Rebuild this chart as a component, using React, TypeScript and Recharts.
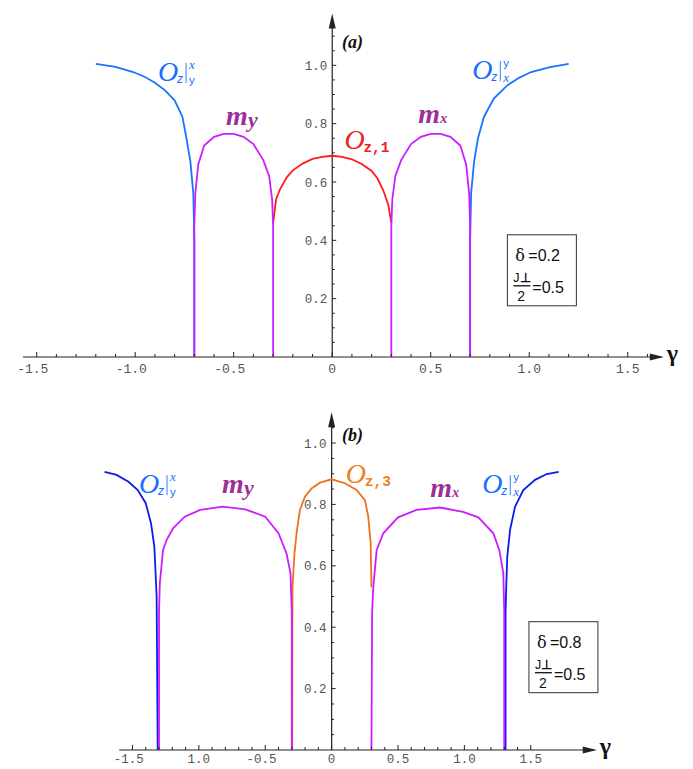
import React from 'react';
import { LineChart, Line, XAxis, YAxis, ReferenceLine, ReferenceDot } from 'recharts';

type Pt = { x: number; y: number };
const toPts = (rows: number[][]): Pt[] => rows.map(([x, y]) => ({ x, y }));

// ---- panel (a): delta = 0.2 ----
const aOzLeft = toPts([
  [-1.2, 1.005], [-1.1, 0.995], [-1.01, 0.977], [-0.95, 0.96], [-0.9, 0.94], [-0.85, 0.915],
  [-0.8, 0.88], [-0.76, 0.823], [-0.74, 0.75], [-0.72, 0.67], [-0.705, 0.56], [-0.7, 0.4], [-0.7, 0],
]);
const aMy = toPts([
  [-0.7, 0], [-0.7, 0.45], [-0.695, 0.56], [-0.68, 0.66], [-0.65, 0.725], [-0.6, 0.755], [-0.55, 0.765],
  [-0.5, 0.765], [-0.45, 0.755], [-0.4, 0.73], [-0.35, 0.675], [-0.32, 0.62], [-0.305, 0.54], [-0.3, 0.45], [-0.3, 0],
]);
const aOz1 = toPts([
  [-0.3, 0.46], [-0.285, 0.54], [-0.265, 0.575], [-0.23, 0.617], [-0.2, 0.64], [-0.15, 0.663], [-0.1, 0.679],
  [-0.05, 0.686], [0, 0.69], [0.05, 0.686], [0.1, 0.678], [0.15, 0.662], [0.2, 0.638], [0.23, 0.612],
  [0.26, 0.57], [0.285, 0.52], [0.3, 0.46],
]);
const aMx = toPts([
  [0.3, 0], [0.3, 0.45], [0.305, 0.54], [0.32, 0.62], [0.35, 0.675], [0.4, 0.73], [0.45, 0.755], [0.5, 0.765],
  [0.55, 0.765], [0.6, 0.755], [0.65, 0.725], [0.68, 0.66], [0.695, 0.56], [0.7, 0.45], [0.7, 0],
]);
const aOzRight = toPts([
  [0.7, 0], [0.7, 0.4], [0.705, 0.56], [0.72, 0.67], [0.74, 0.75], [0.77, 0.823], [0.82, 0.886],
  [0.89, 0.932], [0.95, 0.958], [1.01, 0.977], [1.1, 0.993], [1.2, 1.005],
]);

// ---- panel (b): delta = 0.8 ----
const bOzLeft = toPts([
  [-1.71, 0.906], [-1.62, 0.896], [-1.53, 0.874], [-1.46, 0.847], [-1.4, 0.804], [-1.36, 0.738],
  [-1.335, 0.662], [-1.318, 0.5], [-1.31, 0],
]);
const bMy = toPts([
  [-1.3, 0], [-1.3, 0.45], [-1.294, 0.543], [-1.27, 0.651], [-1.243, 0.684], [-1.194, 0.722], [-1.106, 0.76],
  [-0.99, 0.782], [-0.82, 0.793], [-0.65, 0.784], [-0.5, 0.76], [-0.4, 0.706], [-0.34, 0.641], [-0.31, 0.576],
  [-0.3, 0.45], [-0.3, 0],
]);
const bOz3 = toPts([
  [-0.297, 0], [-0.295, 0.53], [-0.28, 0.64], [-0.264, 0.706], [-0.239, 0.782], [-0.201, 0.825], [-0.151, 0.852],
  [-0.088, 0.871], [0, 0.882], [0.1, 0.869], [0.188, 0.847], [0.251, 0.814], [0.276, 0.76], [0.294, 0.673], [0.3, 0.53],
]);
const bMx = toPts([
  [0.3, 0], [0.305, 0.45], [0.314, 0.532], [0.339, 0.651], [0.389, 0.706], [0.5, 0.758], [0.64, 0.782],
  [0.816, 0.79], [0.99, 0.776], [1.105, 0.758], [1.218, 0.706], [1.263, 0.651], [1.293, 0.576], [1.3, 0.45], [1.3, 0],
]);
const bOzRight = toPts([
  [1.31, 0], [1.31, 0.45], [1.315, 0.532], [1.323, 0.63], [1.344, 0.717], [1.381, 0.792], [1.444, 0.847],
  [1.532, 0.88], [1.62, 0.899], [1.71, 0.906],
]);

// ---- ticks ----
const aXTicks = [-1.5, -1.4, -1.3, -1.2, -1.1, -1, -0.9, -0.8, -0.7, -0.6, -0.5, -0.4, -0.3, -0.2, -0.1, 0,
  0.1, 0.2, 0.3, 0.4, 0.5, 0.6, 0.7, 0.8, 0.9, 1, 1.1, 1.2, 1.3, 1.4, 1.5, 1.6];
const bXTicks = [-1.5, -1.4, -1.3, -1.2, -1.1, -1, -0.9, -0.8, -0.7, -0.6, -0.5, -0.4, -0.3, -0.2, -0.1, 0,
  0.1, 0.2, 0.3, 0.4, 0.5, 0.6, 0.7, 0.8, 0.9, 1, 1.1, 1.2, 1.3, 1.4, 1.5];
const xMajor = [-1.5, -1, -0.5, 0, 0.5, 1, 1.5];
const aXLabels = ['-1.5', '-1.0', '-0.5', '0', '0.5', '1.0', '1.5'];
const bXLabels = ['-1.5', '1.0', '-0.5', '0', '0.5', '1.0', '1.5'];

const aYTicks = [0.05, 0.1, 0.15, 0.2, 0.25, 0.3, 0.35, 0.4, 0.45, 0.5, 0.55, 0.6, 0.65, 0.7, 0.75, 0.8,
  0.85, 0.9, 0.95, 1, 1.05, 1.1];
const bYTicks = [0.05, 0.1, 0.15, 0.2, 0.25, 0.3, 0.35, 0.4, 0.45, 0.5, 0.55, 0.6, 0.65, 0.7, 0.75, 0.8,
  0.85, 0.9, 0.95, 1, 1.05];
const yMajor = [0.2, 0.4, 0.6, 0.8, 1];
const yLabels = ['0.2', '0.4', '0.6', '0.8', '1.0'];

const aParams = ['0.2', '0.5'];
const bParams = ['0.8', '0.5'];

const AXIS = '#222';
const TICK_FONT = 'Liberation Mono, DejaVu Sans Mono, monospace';
const LABEL_BLUE = '#1a6dff';
const PURPLE = '#9b2f96';

const findMajor = (major: number[], v: number) => major.findIndex((m) => Math.abs(m - v) < 1e-6);

const makeXTick = (labels: string[], fontSize: number, dy: number) => (props: any) => {
  const { x, y, payload } = props;
  const i = findMajor(xMajor, payload.value);
  const label = i >= 0 ? labels[i] : null;
  const shift = label && label.startsWith('-') ? -0.3 * fontSize : 0;
  return (
    <g>
      <line x1={x} x2={x} y1={y} y2={y - (i >= 0 ? 5 : 3)} stroke={AXIS} strokeWidth={1} />
      {label && (
        <text x={x + shift} y={y + dy} textAnchor="middle" fontFamily={TICK_FONT} fontSize={fontSize} fill="#555">
          {label}
        </text>
      )}
    </g>
  );
};

const yTickShape = (v: number) => (p: any) => {
  const i = findMajor(yMajor, v);
  return (
    <g>
      <line x1={p.cx} x2={p.cx + (i >= 0 ? 4 : 2.5)} y1={p.cy} y2={p.cy} stroke={AXIS} strokeWidth={1} />
      {i >= 0 && (
        <text x={p.cx - 5} y={p.cy + 4.5} textAnchor="end" fontFamily={TICK_FONT} fontSize={12.5} fill="#555">
          {yLabels[i]}
        </text>
      )}
    </g>
  );
};

const arrowRight = (p: any) => (
  <g>
    <polygon points={`${p.cx},${p.cy} ${p.cx - 14},${p.cy - 3.5} ${p.cx - 14},${p.cy + 3.5}`} fill={AXIS} />
    <text x={p.cx + 3} y={p.cy + 4} fontFamily="Liberation Serif" fontWeight="bold" fontSize={24} fill="#111">γ</text>
  </g>
);

const arrowUp = (p: any) => (
  <polygon points={`${p.cx},${p.cy} ${p.cx - 3.5},${p.cy + 15} ${p.cx + 3.5},${p.cy + 15}`} fill={AXIS} />
);

const panelTag = (tag: string) => (p: any) => (
  <text x={p.cx} y={p.cy} fontFamily="Liberation Serif" fontWeight="bold" fontStyle="italic" fontSize={18} fill="#111">
    ({tag})
  </text>
);

// O_z with a bar and stacked indices
const ozBar = (top: string, bottom: string, topItalic: boolean) => (p: any) => {
  const { cx, cy } = p;
  const serif = { fontFamily: 'Liberation Serif', fontStyle: 'italic' as const, fontSize: 13 };
  const sans = { fontFamily: 'Liberation Sans', fontSize: 11.5 };
  return (
    <g fill={LABEL_BLUE}>
      <text x={cx - 1} y={cy + 1} fontFamily="Liberation Serif" fontStyle="italic" fontSize={28}>O</text>
      <text x={cx + 18} y={cy + 3} fontFamily="Liberation Sans" fontStyle="italic" fontSize={12}>z</text>
      <line x1={cx + 27} x2={cx + 27} y1={cy - 17} y2={cy + 3} stroke={LABEL_BLUE} strokeWidth={0.9} />
      <text x={cx + 30} y={cy - 11} {...(topItalic ? serif : sans)}>{top}</text>
      <text x={cx + 30} y={cy + 4} {...(topItalic ? sans : serif)}>{bottom}</text>
    </g>
  );
};

const ozIndex = (index: string, color: string) => (p: any) => (
  <g fill={color}>
    <text x={p.cx - 1} y={p.cy + 1} fontFamily="Liberation Serif" fontStyle="italic" fontSize={28}>O</text>
    <text x={p.cx + 18} y={p.cy + 4} fontFamily="Liberation Mono" fontWeight="bold" fontSize={14.5}>z,{index}</text>
  </g>
);

const mLabel = (sub: string) => (p: any) => (
  <g fill={PURPLE} fontFamily="Liberation Serif" fontStyle="italic" fontWeight="bold">
    <text x={p.cx} y={p.cy} fontSize={28}>m</text>
    {sub === 'y' ? (
      <text x={p.cx + 22} y={p.cy + 2} fontSize={22}>y</text>
    ) : (
      <text x={p.cx + 22} y={p.cy} fontSize={14}>x</text>
    )}
  </g>
);

const paramBox = (params: string[]) => (p: any) => {
  const { cx, cy } = p;
  return (
    <g fill="#111">
      <rect x={cx} y={cy} width={69} height={71} fill="#fff" stroke="#333" strokeWidth={1} />
      <text x={cx + 8} y={cy + 26} fontFamily="DejaVu Serif" fontSize={16}>δ</text>
      <text x={cx + 21} y={cy + 26} fontFamily="Liberation Sans" fontSize={16}>={params[0]}</text>
      <text x={cx + 6} y={cy + 47} fontFamily="Liberation Sans" fontSize={12.5}>
        J<tspan fontWeight="bold">⊥</tspan>
      </text>
      <line x1={cx + 6} x2={cx + 23} y1={cy + 51} y2={cy + 51} stroke="#111" strokeWidth={1.3} />
      <text x={cx + 10} y={cy + 66} fontFamily="Liberation Sans" fontSize={14}>2</text>
      <text x={cx + 25} y={cy + 58} fontFamily="Liberation Sans" fontSize={16}>={params[1]}</text>
    </g>
  );
};

const lineProps = {
  type: 'linear' as const,
  dataKey: 'y',
  dot: false,
  strokeWidth: 1.8,
  isAnimationActive: false,
};

const PanelA = () => (
  <LineChart width={693} height={384} margin={{ top: 7, right: 16, bottom: 0, left: 17 }}>
    <XAxis
      type="number"
      dataKey="x"
      domain={[-1.6, 1.75]}
      ticks={aXTicks}
      interval={0}
      height={27}
      axisLine={false}
      tickLine={false}
      tickSize={0}
      tickMargin={0}
      tick={makeXTick(aXLabels, 13, 16)}
    />
    <YAxis type="number" dataKey="y" domain={[0, 1.2]} hide />
    <ReferenceLine segment={[{ x: -1.57, y: 0 }, { x: 1.67, y: 0 }]} stroke={AXIS} strokeWidth={1.2} />
    <ReferenceLine segment={[{ x: 0, y: 0 }, { x: 0, y: 1.16 }]} stroke={AXIS} strokeWidth={1.2} />
    {aYTicks.map((v) => (
      <ReferenceDot key={`ay${v}`} x={0} y={v} shape={yTickShape(v)} />
    ))}
    <ReferenceDot x={1.683} y={0} shape={arrowRight} />
    <ReferenceDot x={0} y={1.178} shape={arrowUp} />

    <Line {...lineProps} data={aOzLeft} stroke="#1a72ff" />
    <Line {...lineProps} data={aOzRight} stroke="#1a72ff" />
    <Line {...lineProps} data={aOz1} stroke="#ff1a1a" />
    <Line {...lineProps} data={aMy} stroke="#cc1cff" />
    <Line {...lineProps} data={aMx} stroke="#cc1cff" />

    <ReferenceDot x={0.05} y={1.059} shape={panelTag('a')} />
    <ReferenceDot x={-0.879} y={0.95} shape={ozBar('x', 'y', true)} />
    <ReferenceDot x={0.716} y={0.956} shape={ozBar('y', 'x', false)} />
    <ReferenceDot x={-0.539} y={0.795} shape={mLabel('y')} />
    <ReferenceDot x={0.437} y={0.802} shape={mLabel('x')} />
    <ReferenceDot x={0.067} y={0.716} shape={ozIndex('1', '#ee2222')} />
    <ReferenceDot x={0.889} y={0.419} shape={paramBox(aParams)} />
  </LineChart>
);

const PanelB = () => (
  <LineChart width={693} height={384} margin={{ top: 13, right: 56, bottom: 0, left: 86 }}>
    <XAxis
      type="number"
      dataKey="x"
      domain={[-1.85, 2.3]}
      ticks={bXTicks}
      interval={0}
      height={18}
      axisLine={false}
      tickLine={false}
      tickSize={0}
      tickMargin={0}
      tick={makeXTick(bXLabels, 12.5, 13)}
    />
    <YAxis type="number" dataKey="y" domain={[0, 1.15]} hide />
    <ReferenceLine segment={[{ x: -1.6, y: 0 }, { x: 1.98, y: 0 }]} stroke={AXIS} strokeWidth={1.2} />
    <ReferenceLine segment={[{ x: 0, y: 0 }, { x: 0, y: 1.08 }]} stroke={AXIS} strokeWidth={1.2} />
    {bYTicks.map((v) => (
      <ReferenceDot key={`by${v}`} x={0} y={v} shape={yTickShape(v)} />
    ))}
    <ReferenceDot x={1.997} y={0} shape={arrowRight} />
    <ReferenceDot x={0} y={1.1} shape={arrowUp} />

    <Line {...lineProps} data={bOzLeft} stroke="#0d1af0" />
    <Line {...lineProps} data={bOzRight} stroke="#0d1af0" />
    <Line {...lineProps} data={bOz3} stroke="#ee7020" />
    <Line {...lineProps} data={bMy} stroke="#cc1cff" />
    <Line {...lineProps} data={bMx} stroke="#cc1cff" />

    <ReferenceDot x={0.078} y={1.007} shape={panelTag('b')} />
    <ReferenceDot x={-1.443} y={0.84} shape={ozBar('x', 'y', true)} />
    <ReferenceDot x={1.142} y={0.84} shape={ozBar('y', 'x', false)} />
    <ReferenceDot x={-0.825} y={0.837} shape={mLabel('y')} />
    <ReferenceDot x={0.742} y={0.824} shape={mLabel('x')} />
    <ReferenceDot x={0.114} y={0.873} shape={ozIndex('3', '#f08020')} />
    <ReferenceDot x={1.486} y={0.418} shape={paramBox(bParams)} />
  </LineChart>
);

export default function App() {
  return (
    <div style={{ width: 693, height: 768, background: '#fff', overflow: 'hidden' }}>
      <style>{'body{margin:0;background:#fff;}'}</style>
      <PanelA />
      <PanelB />
    </div>
  );
}
